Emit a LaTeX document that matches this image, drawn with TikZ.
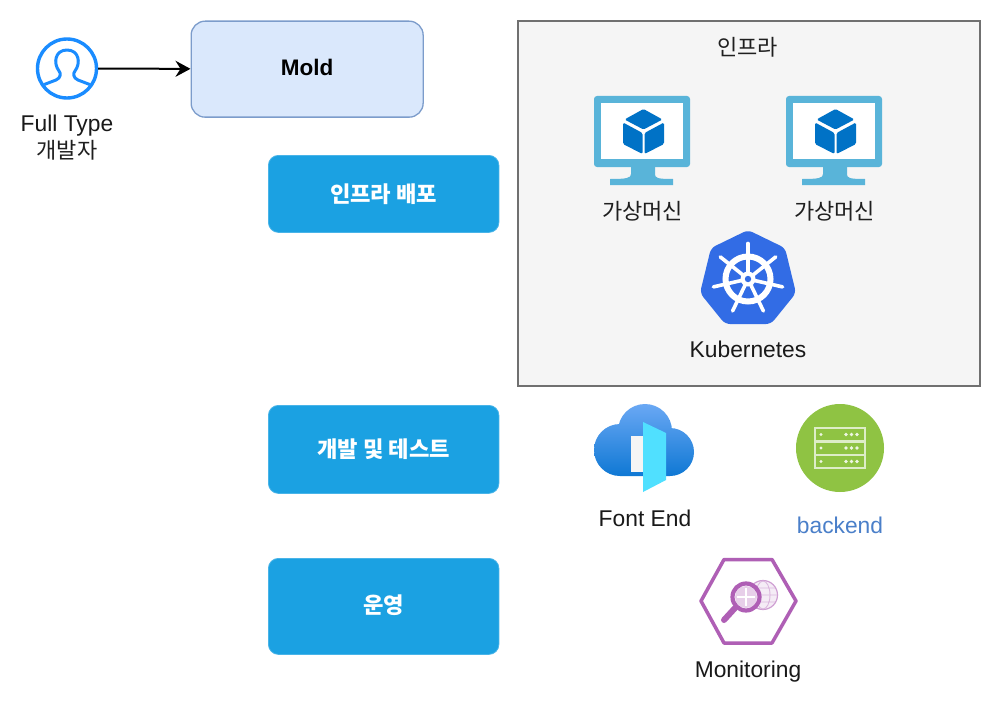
\documentclass[tikz,border=0pt]{standalone}
\usepackage{fontspec}
\setmainfont{Liberation Sans}
\newfontfamily\kr{Noto Sans CJK KR}
\usetikzlibrary{arrows.meta}
\definecolor{moldfill}{HTML}{DAE8FC}
\definecolor{moldline}{HTML}{7C9CCB}
\definecolor{stagefill}{HTML}{1BA1E2}
\definecolor{infrafill}{HTML}{F5F5F5}
\definecolor{infraline}{HTML}{707070}
\definecolor{vmframe}{HTML}{59B4D9}
\definecolor{vmcube}{HTML}{0072C6}
\definecolor{k8s}{HTML}{326CE5}
\definecolor{userblue}{HTML}{1A8CFF}
\definecolor{rackgreen}{HTML}{8FC343}
\definecolor{monpurple}{HTML}{AF5FB5}
\definecolor{backendblue}{HTML}{4A7FC9}
\definecolor{cloudtop}{HTML}{6AA8F4}
\definecolor{cloudbottom}{HTML}{0F78D4}
\definecolor{doorcyan}{HTML}{50E0FF}
\tikzset{
  stagebox/.style={draw=stagefill!80!white,fill=stagefill,rounded corners=10pt,line width=0.8pt,text=white,font=\kr\bfseries\fontsize{22.2}{25}\selectfont,anchor=north west,inner sep=0pt},
  lbl/.style={font=\fontsize{22.8}{25}\selectfont,text=black!90,align=center,inner sep=0pt},
  krlbl/.style={font=\kr\fontsize{22}{25}\selectfont,text=black!88,align=center,inner sep=0pt},
  iconanchor/.style={circle,inner sep=0pt},
  pics/vm/.style={code={
    \fill[vmframe,rounded corners=3pt] (0,0) rectangle (96,71);
    \fill[white] (7,7) rectangle (89,63);
    \fill[vmframe] (37,70) -- (37,78) .. controls (37,82) and (33,83) .. (16,83) -- (16,89) -- (79,89) -- (79,83) .. controls (63,83) and (61,82) .. (61,78) -- (61,70) -- cycle;
    \fill[vmcube,rounded corners=1.5pt] (49.5,13) -- (68.5,23.5) -- (49.5,33.5) -- (30.5,23.5) -- cycle;
    \fill[vmcube,rounded corners=1.5pt] (29,26.5) -- (48.5,37) -- (48.5,58) -- (29,48) -- cycle;
    \fill[vmcube,rounded corners=1.5pt] (50.5,37) -- (70,26.5) -- (70,48) -- (50.5,58) -- cycle;
  }}
}
\begin{document}
\begin{tikzpicture}[x=1pt,y=-1pt]
\useasboundingbox (0,0) rectangle (1000,706);
\fill[white] (0,0) rectangle (1000,706);

% Infrastructure panel
\node[draw=infraline,fill=infrafill,line width=2pt,minimum width=461.5pt,minimum height=364.5pt,anchor=north west,inner sep=0pt] (infra) at (517,20) {};
\node[krlbl] (infratitle) at (747.5,47) {인프라};

% Person
\node[iconanchor,draw=userblue,line width=3.4pt,minimum size=59pt] (person) at (67,68.5) {};
\begin{scope}
\clip (67,68.5) circle (28pt);
\draw[userblue,line width=3pt,line join=round] (43,85) -- (56,80) .. controls (61,78) and (61,73) .. (59,71) .. controls (53,63) and (55,50) .. (67,50) .. controls (79,50) and (81,63) .. (75,71) .. controls (73,73) and (73,78) .. (78,80) -- (91,85);
\end{scope}
\node[lbl] (fulltype) at (67,125.5) {Full Type};
\node[krlbl] (devlabel) at (67,150) {개발자};

% Mold
\node[draw=moldline,fill=moldfill,rounded corners=14pt,line width=1.3pt,minimum width=232pt,minimum height=96pt,anchor=north west,inner sep=0pt,font=\bfseries\fontsize{22.5}{25}\selectfont] (mold) at (190.5,20.5) {\raisebox{3.5pt}{Mold}};
\draw[-{Stealth[length=15pt,width=16pt,inset=5pt]},line width=2pt,black] (person) -- (mold);

% Stage boxes
\node[stagebox,minimum width=230.5pt,minimum height=77pt] (deploy) at (268,155) {\raisebox{2pt}{인프라 배포}};
\node[stagebox,minimum width=230.5pt,minimum height=88pt] (devtest) at (268,405) {\raisebox{3pt}{개발 및 테스트}};
\node[stagebox,minimum width=230.5pt,minimum height=96pt] (ops) at (268,558) {\raisebox{4pt}{운영}};

% Virtual machines
\pic at (594,96) {vm};
\pic at (786,96) {vm};
\node[krlbl] (vm1) at (642.5,211) {가상머신};
\node[krlbl] (vm2) at (834.5,211) {가상머신};

% Kubernetes
\fill[k8s,rounded corners=5pt] (748,230) -- (785,248) -- (796,293) -- (771,324) -- (725,324) -- (700,293) -- (711,248) -- cycle;
\draw[white,line width=6pt] (748,279) circle (22.5pt);
\foreach \a in {90,141.43,192.86,244.29,295.71,347.14,38.57}{
  \draw[white,line width=3.6pt,line cap=round] (748,279) -- ++(\a:35.5pt);
}
\fill[white] (748,279) circle (7.5pt);
\fill[k8s] (748,279) circle (3.2pt);
\node[lbl] (kube) at (748,349) {Kubernetes};

% Front end cloud
\shade[top color=cloudtop,bottom color=cloudbottom]
  (645,431) circle (27pt) (620,450) circle (26pt) (670,452) circle (24pt) (620,432) rectangle (670,476);
\fill[infrafill] (631,436) rectangle (645,472);
\fill[doorcyan] (643,422) -- (666,433) -- (666,480) -- (643,492) -- cycle;
\node[lbl] (frontend) at (645,518) {Font End};

% Backend
\node[circle,fill=rackgreen,minimum size=88pt,inner sep=0pt] (backendicon) at (840,448) {};
\draw[white!70!rackgreen,line width=2pt] (815,428) rectangle (865,441) (815,441.5) rectangle (865,454.5) (815,455) rectangle (865,468);
\foreach \y in {434.5,448,461.5}{
  \fill[white!85!rackgreen] (821,\y) circle (1.7pt) (846,\y) circle (1.8pt) (851.5,\y) circle (1.8pt) (857,\y) circle (1.8pt);
}
\node[lbl,text=backendblue] (backend) at (840,525) {backend};

% Monitoring
\draw[monpurple,line width=3.5pt,line join=round] (724,559.5) -- (772,559.5) -- (796,601) -- (772,643) -- (724,643) -- (701,601) -- cycle;
\fill[monpurple!12!white] (763,595) circle (14.5pt);
\draw[monpurple!60!white,line width=1.2pt] (763,595) circle (14.5pt);
\draw[monpurple!45!white,line width=0.9pt] (763,595) ellipse (7pt and 14pt) (749,595) -- (777,595) (751,588) -- (775,588) (751,602) -- (775,602);
\fill[white] (746,597) circle (14pt);
\fill[monpurple!30!white] (746,597) circle (11pt);
\draw[white,line width=1.4pt] (746,588) -- (746,606) (737,597) -- (755,597);
\draw[monpurple,line width=4.2pt] (746,597) circle (13.5pt);
\draw[monpurple,line width=6pt,line cap=round] (735,608) -- (724,620);
\node[lbl] (monitoring) at (748,671.5) {Monitoring};
\end{tikzpicture}
\end{document}
